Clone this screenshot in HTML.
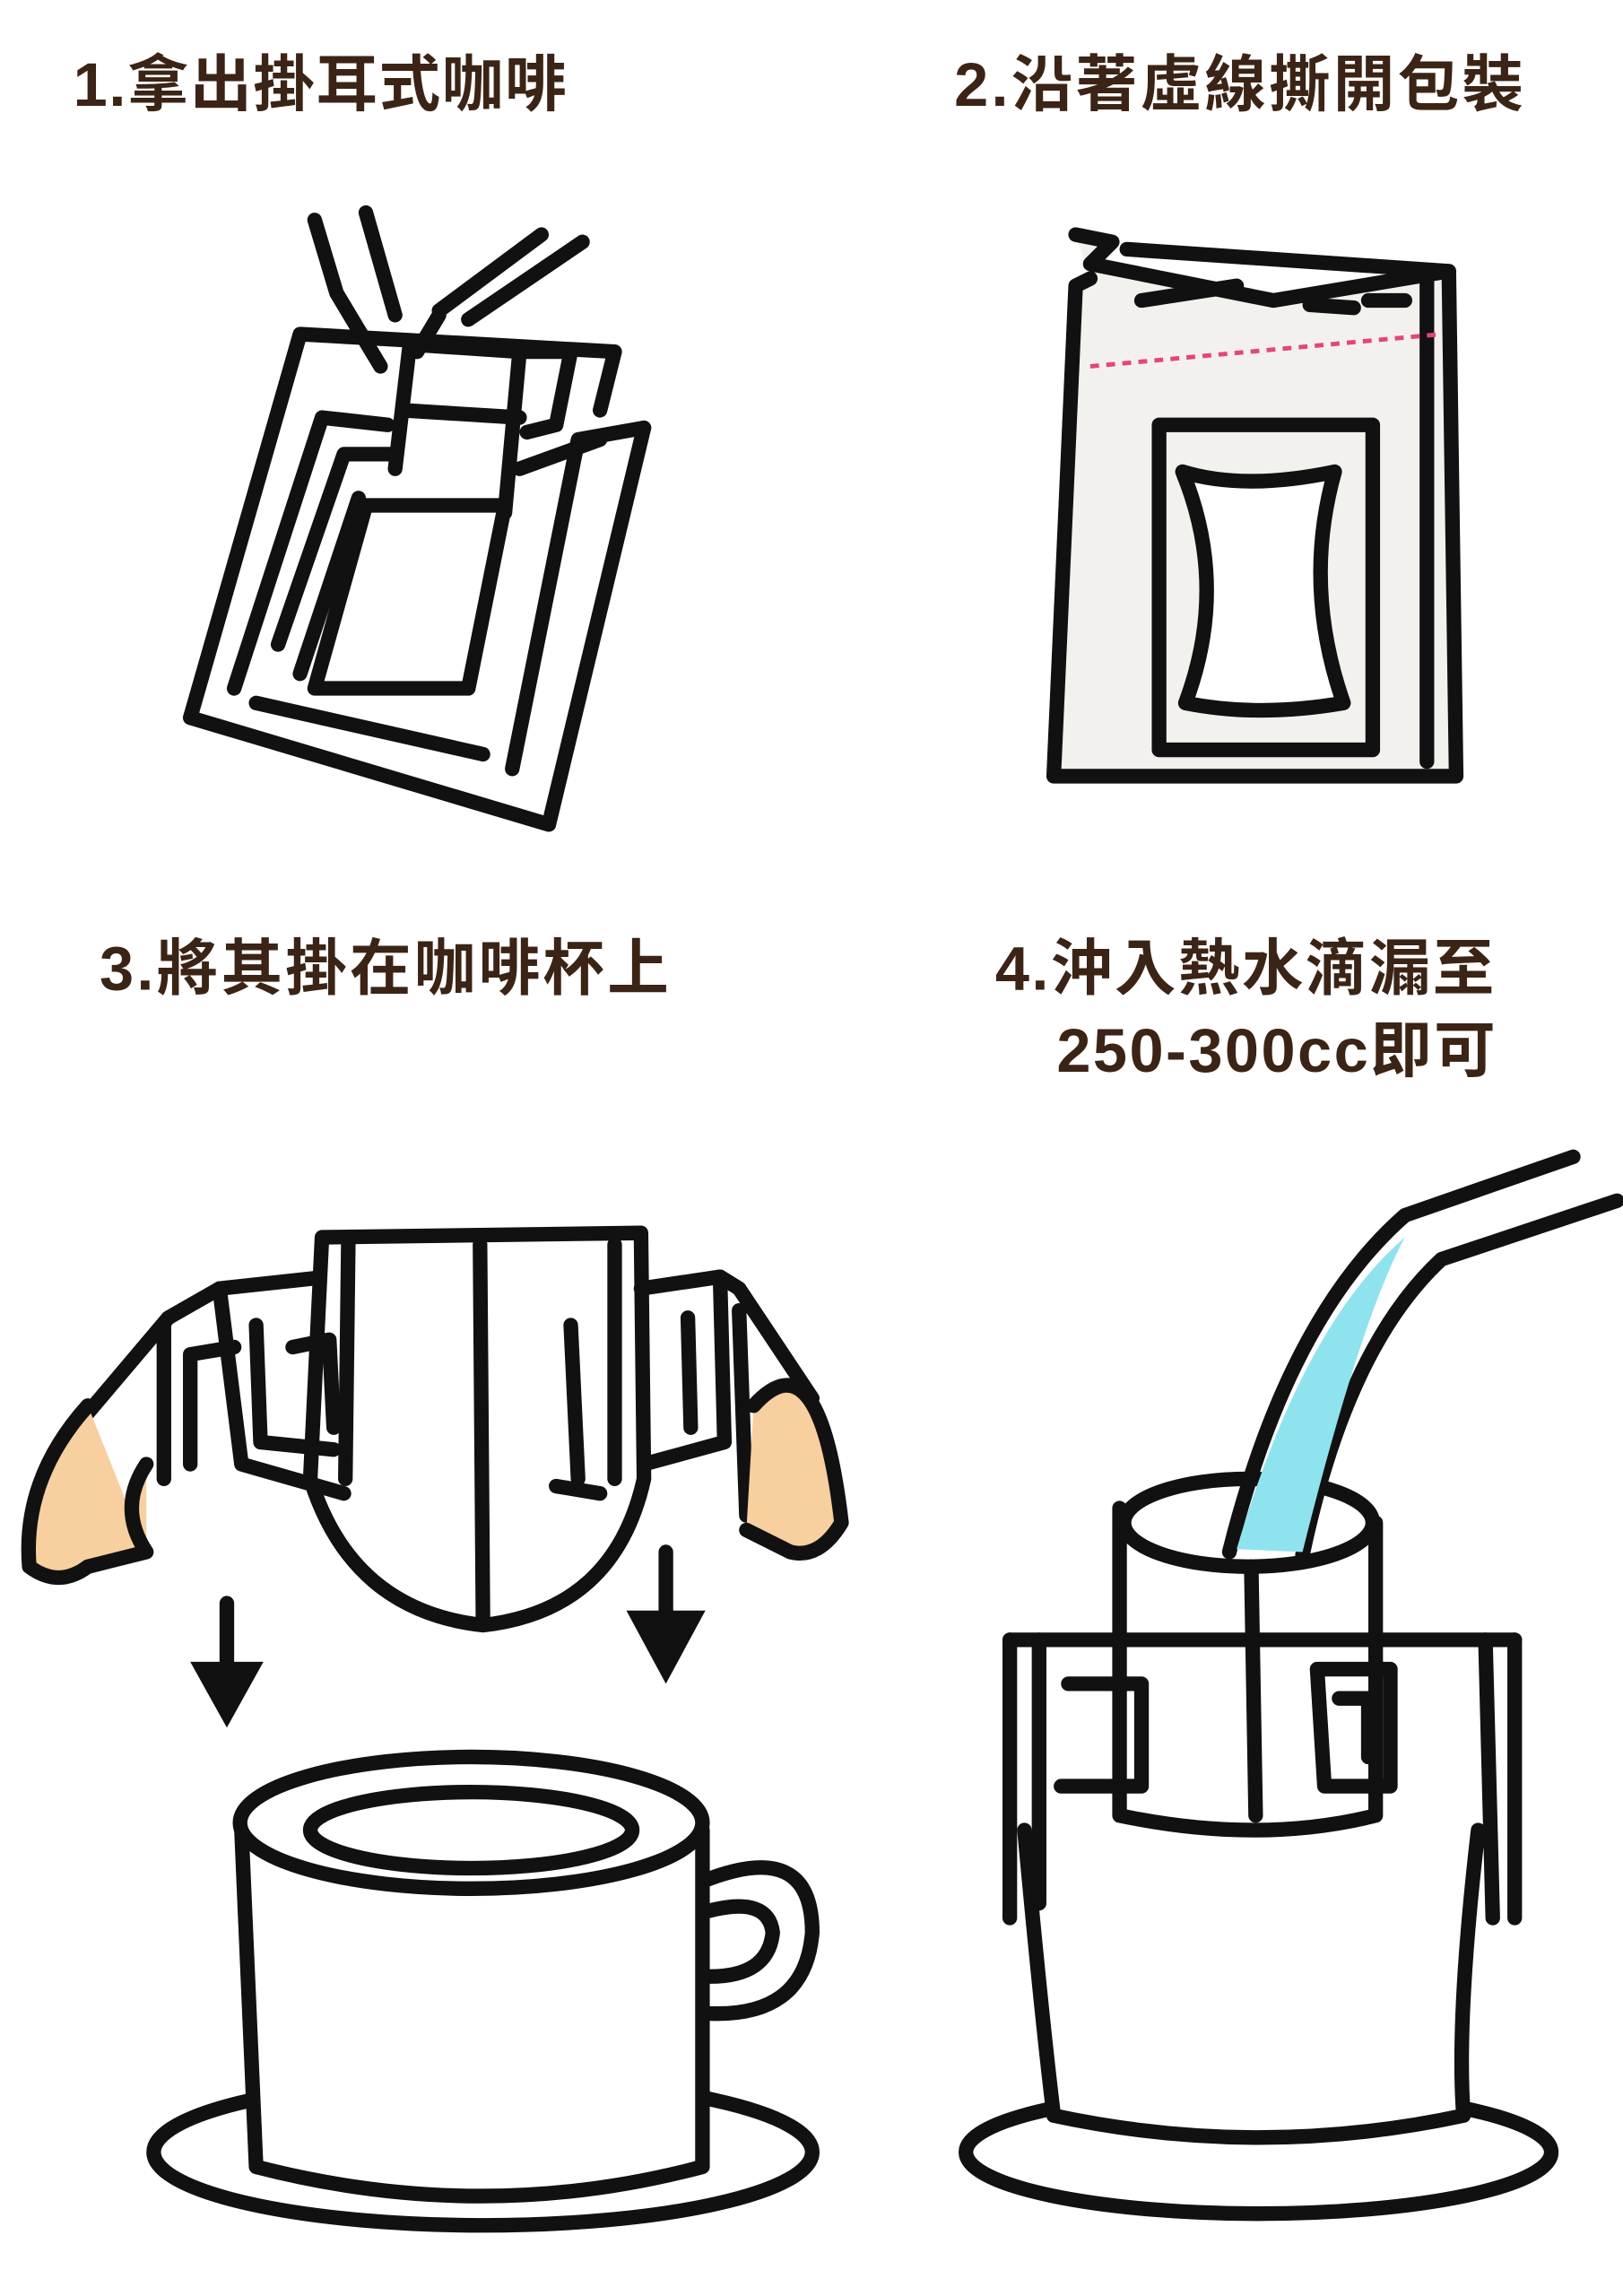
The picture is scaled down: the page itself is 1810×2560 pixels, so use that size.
<!DOCTYPE html>
<html><head><meta charset="utf-8"><style>
html,body{margin:0;padding:0;background:#fff}
svg{display:block}
text{font-family:"Liberation Sans","Noto Sans CJK TC",sans-serif;font-weight:bold;fill:#3b2416}
</style></head><body>
<svg width="1810" height="2560" viewBox="0 0 1109 1568" xmlns="http://www.w3.org/2000/svg">
<rect width="1109" height="1568" fill="#fff"/>
<text x="50" y="72" font-size="42" letter-spacing="1">1.拿出掛耳式咖啡</text>
<text x="652" y="72" font-size="42" letter-spacing="2">2.沿著虛線撕開包裝</text>
<text x="68" y="676" font-size="42" letter-spacing="2">3.將其掛在咖啡杯上</text>
<text x="680" y="676" font-size="42" letter-spacing="1.5">4.沖入熱水滴漏至</text>
<text x="722" y="732" font-size="42" letter-spacing="1.5">250-300cc即可</text>

<g fill="none" stroke="#111" stroke-width="10" stroke-linecap="round" stroke-linejoin="round">
<!-- Panel 1 -->
<path d="M130,490 L205,228 L420,240 L410,280"/>
<path d="M440,292 L375,563 L130,490"/>
<path d="M160,470 L220,285 L265,290"/>
<path d="M175,480 L330,515"/>
<path d="M350,525 L395,300 L440,292"/>
<path d="M190,440 L235,310 L270,310 M355,320 L410,300"/>
<path d="M205,460 L245,340"/>
<path d="M215,470 L250,345 L345,345 L320,470 Z"/>
<path d="M270,320 L280,235 L355,240 L345,350"/>
<path d="M285,240 L300,215 M275,280 L355,285"/>
<path d="M360,240 L390,240 L380,290 L360,295"/>
<path d="M260,250 L230,200 L215,150 M270,215 L250,145 M300,212 L370,160 M320,218 L398,165"/>
<!-- Panel 2 -->
<path d="M735,160 L760,165 L745,180 L870,205 L990,185 L995,530 L720,530 L735,195 L745,190" fill="#f3f1ee"/>
<path d="M770,170 L990,185"/>
<path d="M780,205 L845,195"/>
<path d="M895,208 L925,210 M935,205 L960,205"/>
<path d="M975,190 L975,520"/>
<rect x="792" y="290" width="146" height="222" fill="#f3f1ee"/>
<path d="M808,322 Q850,335 912,322 Q890,400 918,480 Q860,490 810,480 Q840,400 808,322 Z" fill="#fff"/>
<!-- Panel 3 filter -->
<path d="M220,845 L438,842 L440,1010 Q420,1100 330,1110 Q240,1100 212,1010 Z"/>
<path d="M328,850 L330,1105"/>
<path d="M238,848 L236,1010"/>
<path d="M420,850 L420,1010"/>
<path d="M150,880 L215,873 M150,880 L165,1000 L235,1020"/>
<path d="M175,905 L178,985 L228,990"/>
<path d="M200,920 L225,915 L228,975"/>
<path d="M438,880 L492,872 L495,985 L440,1000"/>
<path d="M470,900 L472,975 M390,905 L395,1010 M380,1015 L410,1020"/>
<path d="M150,880 L115,900 L60,965 M112,905 L112,1010 M160,920 L130,925 L130,1000"/>
<path d="M492,872 L505,880 L555,955 M505,895 L510,1035"/>
<path d="M60,960 Q15,1010 20,1070 Q40,1085 60,1070 L100,1060 M100,1000 Q80,1030 100,1060" fill="#f8cf9e"/>
<path d="M515,960 Q560,910 575,1040 Q560,1065 540,1060 L510,1045" fill="#f8cf9e"/>
<path d="M155,1095 L155,1135"/>
<path d="M455,1060 L455,1100"/>
</g>
<path d="M130,1135 L180,1135 L155,1180 Z" fill="#111"/>
<path d="M428,1100 L482,1100 L455,1150 Z" fill="#111"/>
<g fill="none" stroke="#111" stroke-width="10" stroke-linecap="round" stroke-linejoin="round">
<!-- cup 3 -->
<ellipse cx="330" cy="1470" rx="225" ry="50"/>
<path d="M480,1285 Q555,1255 555,1320 Q550,1380 480,1375"/>
<path d="M485,1305 Q525,1295 528,1320 Q525,1350 485,1350"/>
<path d="M165,1250 L175,1480 Q330,1520 480,1480 L480,1250 Z" fill="#fff"/>
<ellipse cx="322" cy="1245" rx="158" ry="45" fill="#fff"/>
<ellipse cx="322" cy="1250" rx="110" ry="26"/>
<!-- panel 4 -->
<ellipse cx="860" cy="1470" rx="200" ry="42"/>
<path d="M700,1250 Q712,1380 720,1445 Q860,1475 1000,1445 Q995,1380 1010,1250 Z" fill="#fff" stroke="none"/>
<path d="M700,1250 Q712,1380 720,1445 Q860,1475 1000,1445 Q995,1380 1010,1250"/>
<path d="M690,1120 L690,1310 M710,1120 L710,1300 M1015,1120 L1020,1310 M1035,1120 L1035,1310"/>
<path d="M690,1120 L1035,1120"/>
<path d="M765,1030 L765,1240 Q860,1260 940,1240 L940,1040" fill="#fff"/>
<path d="M765,1120 L940,1120"/>
<ellipse cx="853" cy="1040" rx="85" ry="30" fill="#fff"/>
<path d="M855,1070 L858,1240"/>
<path d="M730,1150 L780,1150 L780,1220 L725,1220"/>
<path d="M900,1140 L950,1140 L950,1220 L905,1220 Z"/>
<path d="M915,1160 L935,1160 L935,1200"/>
<path d="M840,1060 Q880,900 960,830 L1075,790 M890,1062 Q920,920 985,860 L1105,820"/>
</g>
<path d="M845,1058 Q890,905 960,845 Q930,900 890,1060 Z" fill="#8fe3ee"/>
<g stroke="#e4457a" stroke-width="3" stroke-dasharray="6,5"><line x1="745" y1="250" x2="985" y2="228"/></g>
</svg>
</body></html>
